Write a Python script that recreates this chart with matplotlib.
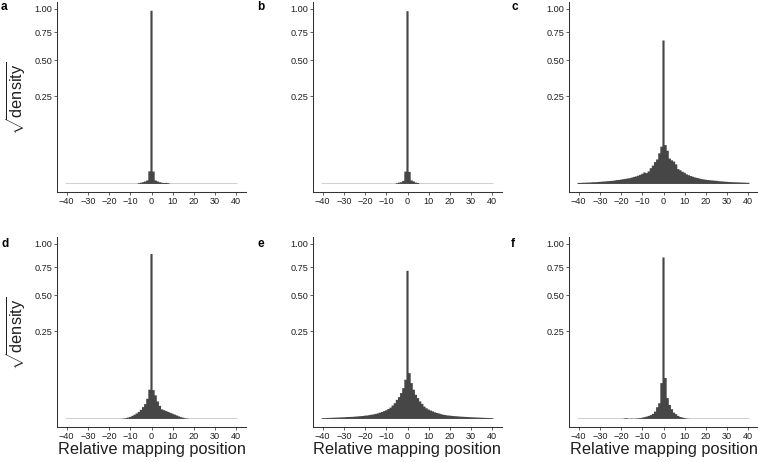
import numpy as np
import matplotlib
matplotlib.use("Agg")
import matplotlib.pyplot as plt

plt.rcParams['font.family'] = ['Liberation Sans', 'DejaVu Sans']
plt.rcParams['mathtext.fontset'] = 'custom'
plt.rcParams['mathtext.rm'] = 'Liberation Sans'
plt.rcParams['mathtext.it'] = 'Liberation Sans:italic'
plt.rcParams['mathtext.bf'] = 'Liberation Sans:bold'

# ---------------- data ----------------
bin_centers = list(range(-40, 41))

panel_labels = ["a", "b", "c", "d", "e", "f"]

density_a = (
    [0.000002] * 34 +                                   # -40 .. -7
    [0.00002, 0.00005, 0.0001, 0.0002, 0.0004, 0.0052,  # -6 .. -1
     0.98,                                              # 0
     0.0050, 0.0004, 0.0002, 0.0001, 0.00005, 0.00003, 0.00004, 0.00002] +  # 1 .. 8
    [0.000002] * 32                                     # 9 .. 40
)

density_b = (
    [0.000002] * 35 +                                   # -40 .. -6
    [0.00002, 0.00006, 0.0001, 0.0003, 0.0050,          # -5 .. -1
     0.975,                                             # 0
     0.0048, 0.0004, 0.0002, 0.00006, 0.00003] +        # 1 .. 5
    [0.000002] * 35                                     # 6 .. 40
)

density_c = [
    0.000036, 0.000036, 0.000049, 0.000049, 0.000064, 0.000064, 0.000081, 0.0001, 0.0001, 0.000121,   # -40 .. -31
    0.000144, 0.000169, 0.000196, 0.000225, 0.000256, 0.000289, 0.000324, 0.0004, 0.000484, 0.000529,  # -30 .. -21
    0.000625, 0.000729, 0.000841, 0.000961, 0.001089, 0.001296, 0.0016, 0.001849, 0.002209, 0.002704,  # -20 .. -11
    0.003364, 0.004356, 0.003844, 0.005184, 0.0081, 0.011025, 0.015625, 0.0196, 0.030625, 0.045369,    # -10 .. -1
    0.6724,                                                                                             # 0
    0.049284, 0.0361, 0.021025, 0.018225, 0.016384, 0.012544, 0.007225, 0.006084, 0.0049, 0.004096,    # 1 .. 10
    0.003025, 0.0025, 0.002025, 0.001681, 0.001369, 0.001156, 0.000961, 0.000784, 0.000676, 0.000576,  # 11 .. 20
    0.000506, 0.000441, 0.0004, 0.000361, 0.000324, 0.000256, 0.000225, 0.000196, 0.000169, 0.000144,  # 21 .. 30
    0.000121, 0.00011, 0.0001, 0.00009, 0.000081, 0.000072, 0.000064, 0.000056, 0.000049, 0.000042,    # 31 .. 40
]

density_d = (
    [0.000002] * 26 +                                                     # -40 .. -15
    [0.000004, 0.000009, 0.000025, 0.000064, 0.000144, 0.00032, 0.00058,   # -14 .. -8
     0.001, 0.0016, 0.0027, 0.0046, 0.0072, 0.0132, 0.0279,               # -7 .. -1
     0.889,                                                               # 0
     0.0272, 0.0182, 0.01, 0.005625, 0.003025, 0.0025, 0.002025, 0.0016,   # 1 .. 8
     0.001225, 0.0009, 0.000625, 0.0004, 0.000225, 0.0001, 0.000049,       # 9 .. 15
     0.000016, 0.000009] +                                                # 16 .. 17
    [0.000002] * 23                                                       # 18 .. 40
)

density_e = [
    0.00002, 0.000025, 0.00003, 0.000036, 0.000042, 0.000049, 0.000056, 0.000064, 0.000072, 0.000081,  # -40 .. -31
    0.000092, 0.00011, 0.000121, 0.000132, 0.000144, 0.000169, 0.000196, 0.000225, 0.000256, 0.00029,  # -30 .. -21
    0.00036, 0.0004, 0.00048, 0.00058, 0.00068, 0.00084, 0.001, 0.0013, 0.0016, 0.002,                 # -20 .. -11
    0.0025, 0.00325, 0.0042, 0.0059, 0.0081, 0.0119, 0.0156, 0.0219, 0.031, 0.0502,                    # -10 .. -1
    0.717,                                                                                              # 0
    0.0686, 0.042, 0.0279, 0.019, 0.0142, 0.01, 0.0074, 0.005, 0.0037, 0.0029,                         # 1 .. 10
    0.0023, 0.00185, 0.00144, 0.00116, 0.00096, 0.00073, 0.00058, 0.00048, 0.0004, 0.00036,            # 11 .. 20
    0.00031, 0.00027, 0.00024, 0.00021, 0.00018, 0.00016, 0.00014, 0.000125, 0.00011, 0.000096,        # 21 .. 30
    0.000085, 0.000075, 0.000066, 0.000058, 0.00005, 0.000044, 0.000038, 0.000032, 0.000027, 0.000022, # 31 .. 40
]

density_f = (
    [0.000002] * 21 +                                                     # -40 .. -20
    [0.000004, 0.000016, 0.000016, 0.000004, 0.000009, 0.000004,           # -19 .. -14
     0.000009, 0.000016, 0.000025, 0.000049, 0.0001, 0.00017, 0.00029,     # -13 .. -7
     0.00048, 0.00084, 0.00176, 0.0045, 0.0081, 0.042,                    # -6 .. -1
     0.852,                                                               # 0
     0.0548, 0.0142, 0.0064, 0.0031, 0.0013, 0.00073, 0.00029, 0.00012,    # 1 .. 8
     0.000064, 0.000025, 0.000009, 0.000004] +                            # 9 .. 12
    [0.000002] * 28                                                       # 13 .. 40
)

all_density = [density_a, density_b, density_c, density_d, density_e, density_f]

x_ticks = [-40, -30, -20, -10, 0, 10, 20, 30, 40]
y_ticks = [0.25, 0.50, 0.75, 1.00]
y_tick_labels = ["0.25", "0.50", "0.75", "1.00"]
x_label = "Relative mapping position"
y_label = r"$\sqrt{\mathrm{density}}$"

# ---------------- layout ----------------
W, H = 758, 462
fig = plt.figure(figsize=(W / 100, H / 100), dpi=100)

col_left = [57, 313, 569]
row_top = [2, 237]
ax_w, ax_h = 189, 190

bar_color = "#464646"
ink = "#1f1f1f"


def fwd(x):
    x = np.asarray(x, dtype=float)
    return np.sign(x) * np.sqrt(np.abs(x))


def inv(s):
    s = np.asarray(s, dtype=float)
    return np.sign(s) * s ** 2


label_pos = {0: (1, 10), 1: (257, 10), 2: (511, 10),
             3: (1, 247), 4: (257, 247), 5: (511, 247)}

bin_edges = np.array(bin_centers + [bin_centers[-1] + 1], dtype=float) - 0.5

for i, dens in enumerate(all_density):
    r, c = divmod(i, 3)
    left = col_left[c]
    top = row_top[r]
    ax = fig.add_axes([left / W, 1 - (top + ax_h) / H, ax_w / W, ax_h / H])
    ax.set_yscale("function", functions=(fwd, inv))
    ax.stairs(dens, bin_edges, fill=True, color=bar_color, linewidth=0,
              baseline=0, snap=False, antialiased=True)
    ax.set_xlim(-44.55, 44.55)
    ax.set_ylim(-0.046 ** 2, 1.04 ** 2)
    ax.set_xticks(x_ticks)
    ax.set_yticks(y_ticks)
    ax.set_yticklabels(y_tick_labels)
    ax.minorticks_off()
    for side in ("top", "right"):
        ax.spines[side].set_visible(False)
    for side in ("left", "bottom"):
        ax.spines[side].set_linewidth(0.75)
        ax.spines[side].set_color("#333333")
    ax.tick_params(axis="both", direction="out", length=2.2, width=0.6,
                   color="#444444", labelsize=6.6, labelcolor=ink, pad=1.2)
    ax.set_facecolor("white")

    lx, ly = label_pos[i]
    fig.text(lx / W, 1 - ly / H, panel_labels[i], fontsize=8.5, fontweight="bold",
             ha="left", va="baseline", color="black")

    if c == 0:
        fig.text(16 / W, 1 - (top + ax_h / 2 + 1) / H, y_label, rotation=90,
                 fontsize=11.8, ha="center", va="center", color=ink)
    if r == 1:
        fig.text((left + ax_w / 2) / W, 1 - 454 / H, x_label,
                 fontsize=11.8, ha="center", va="baseline", color=ink)

fig.savefig("out.png", dpi=100, facecolor="white")
